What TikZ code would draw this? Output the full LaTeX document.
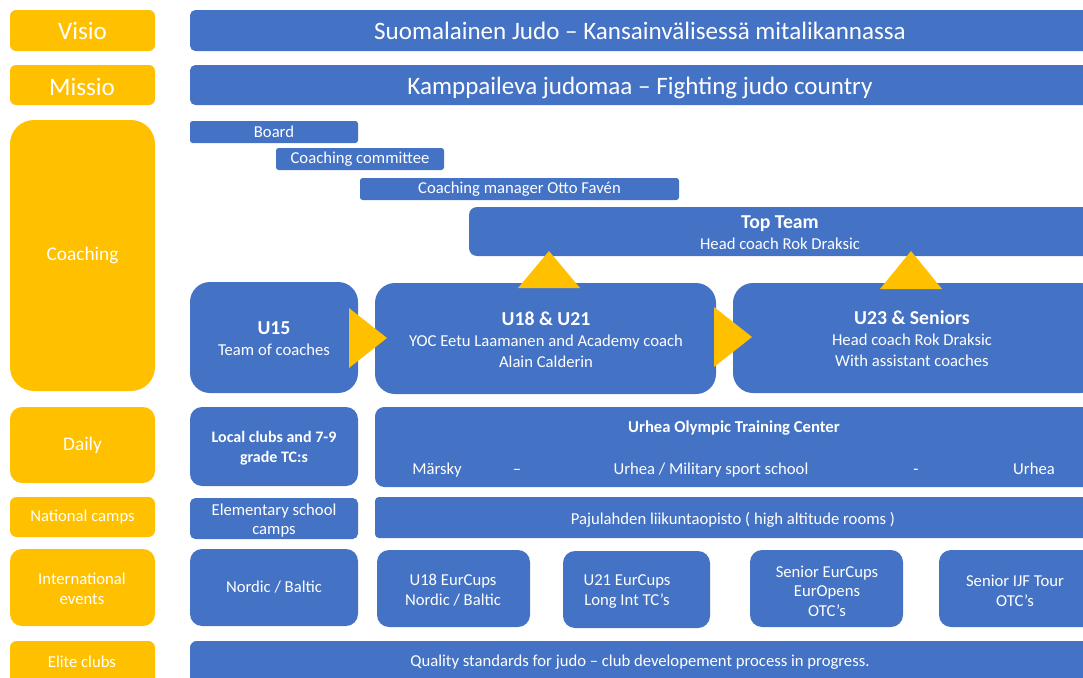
\documentclass[tikz,border=0pt]{standalone}
\usepackage{fontspec}
\setmainfont{Carlito}
\usetikzlibrary{fit}
\definecolor{pblue}{HTML}{4472C4}
\definecolor{pyel}{HTML}{FFC000}
\newcommand{\ttl}[1]{{\fontsize{14.8}{15.75}\selectfont\bfseries #1}}
\begin{document}
\begin{tikzpicture}[x=0.75pt,y=-0.75pt,
  box/.style={inner sep=0pt, outer sep=0pt, draw=none},
  yel/.style={box, fill=pyel, rounded corners=#1},
  yel/.default=4.5pt,
  blu/.style={box, fill=pblue, rounded corners=#1},
  blu/.default=4pt,
  lbl/.style={text=white, align=center, inner sep=0pt, font=\fontsize{12.5}{15.75}\selectfont},
  rowtxt/.style={lbl, anchor=base},
  big/.style={lbl, font=\fontsize{18.8}{20}\selectfont},
  mid/.style={lbl, font=\fontsize{14.5}{17}\selectfont},
  tri/.style={fill=pyel, draw=none}]
\useasboundingbox (0,0) rectangle (1083,678);

% ---- left column labels
\node[yel, fit={(10,10)(155,51)}] (visioL) {};
\node[big] (visioT) at (visioL) {Visio};
\node[yel, fit={(10,65)(155,105)}] (missioL) {};
\node[big] (missioT) at (82,86.5) {Missio};
\node[yel=18pt, fit={(10,120)(155,391)}] (coachL) {};
\node[mid] (coachT) at (coachL) {Coaching};
\node[yel=9pt, fit={(10,407)(155,483)}] (dailyL) {};
\node[mid] (dailyT) at (dailyL) {Daily};
\node[yel=5pt, fit={(10,497)(155,537)}] (natL) {};
\node[lbl] (natT) at (natL) {National camps};
\node[yel=9pt, fit={(10,549)(155,626)}] (intL) {};
\node[lbl, font=\fontsize{12.5}{15}\selectfont] (intT) at (82,589) {International\\events};
\node[yel=5pt, fit={(10,641)(155,690)}] (eliteL) {};
\node[lbl] (eliteT) at (82,662) {Elite clubs};

% ---- vision / mission
\node[blu, fit={(190,10)(1100,51)}] (visioB) {};
\node[big] (visioBT) at (640,31) {Suomalainen Judo – Kansainvälisessä mitalikannassa};
\node[blu, fit={(190,65)(1100,105)}] (missioB) {};
\node[big] (missioBT) at (640,87.5) {Kamppaileva judomaa – Fighting judo country};

% ---- coaching hierarchy
\node[blu=2pt, fit={(190,121)(358,143)}] (board) {};
\node[lbl] (boardT) at (board) {Board};
\node[blu=2pt, fit={(276,148)(444,170)}] (committee) {};
\node[lbl] (committeeT) at (committee) {Coaching committee};
\node[blu=2pt, fit={(360,178)(679,200)}] (manager) {};
\node[lbl] (managerT) at (manager) {Coaching manager Otto Favén};
\node[blu=6pt, fit={(469,207)(1100,256)}] (top) {};
\node[lbl] (topT) at (780,232.5) {\ttl{Top Team}\\Head coach Rok Draksic};

\node[blu=15pt, fit={(190,282)(358,393)}] (u15) {};
\node[lbl] (u15T) at (274,339) {\ttl{U15}\\Team of coaches};
\node[blu=15pt, fit={(375,283)(716,394)}] (u18) {};
\node[lbl] (u18T) at (546,340) {\ttl{U18 \& U21}\\YOC Eetu Laamanen and Academy coach\\Alain Calderin};
\node[blu=15pt, fit={(733,283)(1100,393)}] (u23) {};
\node[lbl] (u23T) at (912,339) {\ttl{U23 \& Seniors}\\Head coach Rok Draksic\\With assistant coaches};

% ---- arrows (triangles)
\path[tri] (518,288) -- (549,251) -- (580,288) -- cycle;
\path[tri] (880,289) -- (911,251) -- (942,289) -- cycle;
\path[tri] (349,308) -- (387,338) -- (349,368) -- cycle;
\path[tri] (714,307) -- (752,337) -- (714,367) -- cycle;

% ---- daily
\node[blu=9pt, fit={(190,407)(358,486)}] (local) {};
\node[lbl, font=\fontsize{12}{15}\selectfont\bfseries] (localT) at (274,448.5) {Local clubs and 7-9\\grade TC:s};
\node[blu=7pt, fit={(375,407)(1100,487)}] (urhea) {};
\node[lbl, font=\fontsize{12.5}{14}\selectfont\bfseries] (urheaT) at (734,428.5) {Urhea Olympic Training Center};
\node[rowtxt] (marsky) at (437,474) {Märsky};
\node[rowtxt] (dash1) at (517,474) {–};
\node[rowtxt] (military) at (711,474) {Urhea / Military sport school};
\node[rowtxt] (dash2) at (916,474) {-};
\node[rowtxt] (urhea2) at (1034,474) {Urhea};

% ---- national camps
\node[blu=4pt, fit={(190,498)(358,539)}] (elem) {};
\node[lbl, font=\fontsize{12.5}{14.25}\selectfont] (elemT) at (274,521) {Elementary school\\camps};
\node[blu=3pt, fit={(375,497)(1100,538)}] (paju) {};
\node[lbl] (pajuT) at (733,519.5) {Pajulahden liikuntaopisto ( high altitude rooms )};

% ---- international events
\node[blu=9pt, fit={(190,549)(358,626)}] (nordic) {};
\node[lbl] (nordicT) at (nordic) {Nordic / Baltic};
\node[blu=9pt, fit={(377,550)(530,627)}] (eu18) {};
\node[lbl, font=\fontsize{12.5}{15}\selectfont] (eu18T) at (453,590.5) {U18 EurCups\\Nordic / Baltic};
\node[blu=9pt, fit={(563,551)(710,628)}] (eu21) {};
\node[lbl, font=\fontsize{12.5}{15}\selectfont] (eu21T) at (627,591.5) {U21 EurCups\\Long Int TC’s};
\node[blu=9pt, fit={(750,550)(903,627)}] (eusen) {};
\node[lbl, font=\fontsize{12.5}{14.6}\selectfont] (eusenT) at (827,591) {Senior EurCups\\EurOpens\\OTC’s};
\node[blu=9pt, fit={(939,550)(1100,627)}] (ijf) {};
\node[lbl, font=\fontsize{12.5}{15}\selectfont] (ijfT) at (1015,590.5) {Senior IJF Tour\\OTC’s};

% ---- elite clubs
\node[blu=5pt, fit={(190,641)(1100,690)}] (quality) {};
\node[lbl] (qualityT) at (640,662.5) {Quality standards for judo – club developement process in progress.};
\end{tikzpicture}
\end{document}
